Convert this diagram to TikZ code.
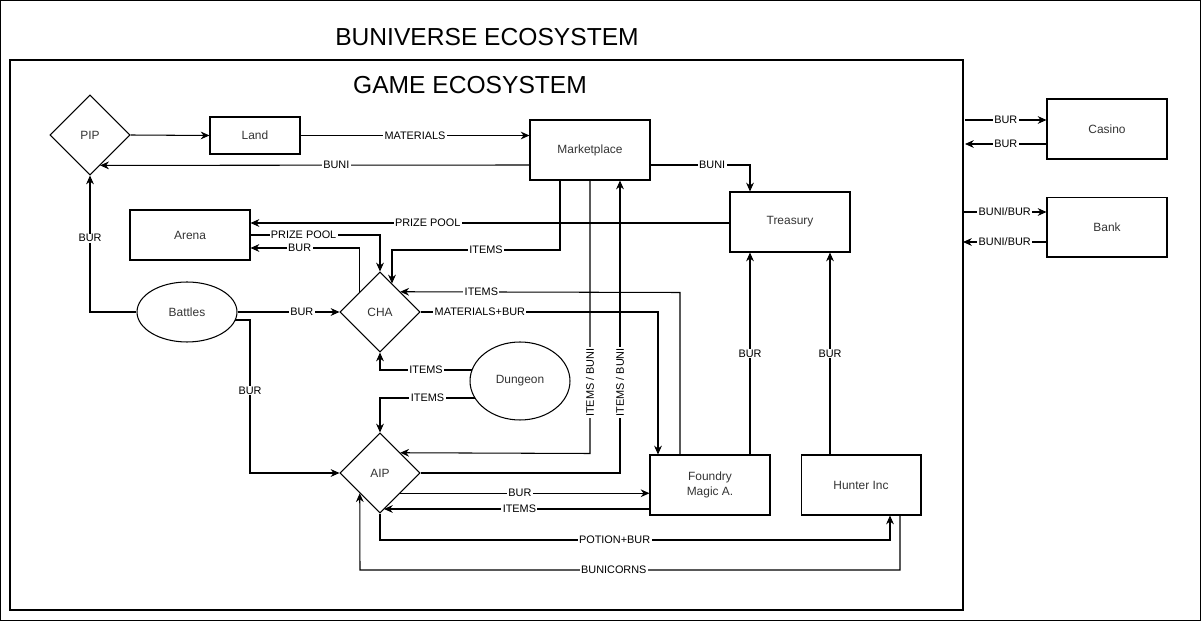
\documentclass[tikz,border=0pt]{standalone}
\usepackage{fontspec}
\setmainfont{Liberation Sans}
\usetikzlibrary{shapes.geometric,arrows.meta,positioning,calc}

\definecolor{inkgray}{HTML}{333333}

\tikzset{
  box/.style={draw, minimum width=2.4cm, minimum height=1.2cm, inner sep=0pt,
    text=inkgray, font=\fontsize{6.8}{8.2}\selectfont},
  gate/.style={draw, diamond, aspect=1, minimum size=1.6cm, inner sep=0pt,
    text=inkgray, font=\fontsize{6.8}{8.2}\selectfont},
  pool/.style={draw, ellipse, minimum width=2cm, minimum height=1.2cm, inner sep=0pt,
    text=inkgray, font=\fontsize{6.8}{8.2}\selectfont},
  flow/.style={-{Stealth[length=5pt,width=4.4pt]}},
  tag/.style={fill=white, inner xsep=0.8pt, inner ysep=0.4pt,
    font=\fontsize{6.2}{7}\selectfont},
  heading/.style={font=\fontsize{14}{16}\selectfont},
}

\begin{document}
\begin{tikzpicture}[x=0.02cm, y=-0.02cm, line width=0.6pt]
  \useasboundingbox (0,0) rectangle (1201,621);
  \draw (0.5,0.5) rectangle (1200.5,620.5);
  \node[heading] (buniverse) at (487,37) {BUNIVERSE ECOSYSTEM};
  \draw (10,60) rectangle (963,610);
  \node[heading] (game) at (470,85) {GAME ECOSYSTEM};

  \node[gate] (pip) at (90,135) {PIP};
  \node[box, minimum width=1.8cm, minimum height=0.74cm] (land) at (255,135.5) {Land};
  \node[box] (market) at (590,150) {Marketplace};
  \node[box] (treasury) at (790,222) {Treasury};
  \node[box, minimum height=1cm] (arena) at (190,235) {Arena};
  \node[pool] (battles) at (187,312) {Battles};
  \node[gate] (cha) at (380,312) {CHA};
  \node[pool, minimum height=1.56cm] (dungeon) at (520,381) {Dungeon};
  \node[gate] (aip) at (380,473) {AIP};
  \node[box, align=center] (foundry) at (710,485) {Foundry\\Magic A.};
  \node[box, right=0.6cm of foundry] (hunter) {Hunter Inc};
  \node[box] (casino) at (1107,129) {Casino};
  \node[box, below=0.74cm of casino] (bank) {Bank};

  \coordinate (casinoin) at (965,120);
  \coordinate (casinoout) at (965,144);
  \coordinate (bankin) at (963,212);
  \coordinate (bankout) at (963,242);

  \draw[flow] (pip.east) -- (land.west);
  \draw[flow] (land.east) -- node[tag]{MATERIALS} (land.east -| market.west);
  \draw[flow] (market.west |- 0,165) -- node[tag, pos=0.45]{BUNI} ($(pip.east)!0.75!(pip.south)$);
  \draw[flow] (market.east |- 0,165) -- node[tag, pos=0.62]{BUNI} (750,165) -- (treasury.north -| 750,0);
  \draw[flow] (treasury.west |- 0,223) -- node[tag, pos=0.63]{PRIZE POOL} (arena.east |- 0,223);
  \draw[flow] (arena.east) -- node[tag, pos=0.41]{PRIZE POOL} (arena.east -| cha.north) -- (cha.north);
  \draw[flow] (cha.north west) -- (cha.north west |- 0,248) -- node[tag, pos=0.55]{BUR} (arena.east |- 0,248);
  \draw[flow] (market.south -| 560,0) -- (560,250) -- node[tag, pos=0.44]{ITEMS} (392,250) -- ($(cha.north)+(12,12)$);
  \draw[flow] (foundry.north -| 680,0) -- (680,292.5) -- node[tag, pos=0.71]{ITEMS} (cha.north east);
  \draw[flow] (cha.east) -- node[tag, pos=0.25]{MATERIALS+BUR} (658,312) -- (foundry.north -| 658,0);
  \draw[flow] (battles.east) -- node[tag, pos=0.63]{BUR} (cha.west);
  \draw[flow] (battles.west) -| node[tag, pos=0.77]{BUR} (pip.south);
  \draw[flow] ($(battles.center)+(48,8)$) -- (250,320) -- node[tag, pos=0.46]{BUR} (250,473) -- (aip.west);
  \draw[flow] ($(dungeon.center)+(-48,-11)$) -- node[tag]{ITEMS} (380,370) -- (cha.south);
  \draw[flow] ($(dungeon.center)+(-45,17)$) -- node[tag]{ITEMS} (380,398) -- (aip.north);
  \draw[flow] (market.south -| 590,0) -- node[tag, rotate=90, pos=0.74]{ITEMS / BUNI} (590,453.5) -- (aip.north east);
  \draw[flow] (aip.east) -- (620,473) -- node[tag, rotate=90, pos=0.31]{ITEMS / BUNI} (market.south -| 620,0);
  \draw[flow] (aip.south east) -- node[tag, pos=0.48]{BUR} (aip.south east -| foundry.west);
  \draw[flow] (foundry.west |- 0,509) -- node[tag, pos=0.49]{ITEMS} ($(aip.center)+(4,36)$);
  \draw[flow] (aip.south) -- (380,540) -- node[tag, pos=0.46]{POTION+BUR} (890,540) -- (hunter.south -| 890,0);
  \draw[flow] (hunter.south -| 900,0) -- (900,570) -- node[tag, pos=0.53]{BUNICORNS} (360,570) -- (aip.south west);
  \draw[flow] (foundry.north -| 750,0) -- node[tag]{BUR} (treasury.south -| 750,0);
  \draw[flow] (hunter.north -| 830,0) -- node[tag]{BUR} (treasury.south -| 830,0);

  \draw[flow] (casinoin) -- node[tag]{BUR} (casino.west |- casinoin);
  \draw[flow] (casino.west |- casinoout) -- node[tag]{BUR} (casinoout);
  \draw[flow] (bankin) -- node[tag]{BUNI/BUR} (bank.west |- bankin);
  \draw[flow] (bank.west |- bankout) -- node[tag]{BUNI/BUR} (bankout);
\end{tikzpicture}
\end{document}
